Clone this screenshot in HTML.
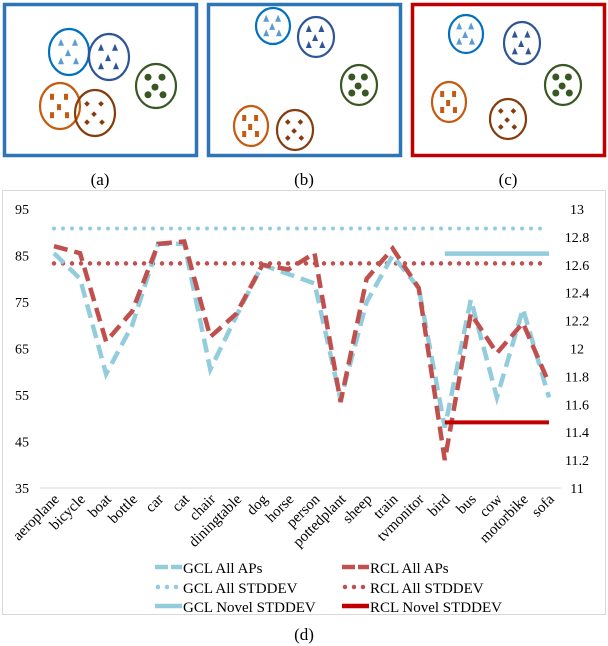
<!DOCTYPE html>
<html><head><meta charset="utf-8"><style>
body{margin:0;background:#fff;width:608px;height:646px;overflow:hidden;font-family:"Liberation Serif",serif}
svg{display:block}
</style></head><body>
<svg width="608" height="646" viewBox="0 0 608 646" xmlns="http://www.w3.org/2000/svg" font-family="Liberation Serif, serif">
<g id="panels"></g>
<text x="100" y="185" font-size="17" text-anchor="middle">(a)</text>
<text x="304" y="185" font-size="17" text-anchor="middle">(b)</text>
<text x="508" y="185" font-size="17" text-anchor="middle">(c)</text>
<rect x="2.5" y="190.5" width="603" height="424" fill="none" stroke="#d9d9d9"/>
<g id="chart"></g>
<text x="304" y="640" font-size="17" text-anchor="middle">(d)</text>
</svg>
<script>
const categories=["aeroplane","bicycle","boat","bottle","car","cat","chair","diningtable","dog","horse","person","pottedplant","sheep","train","tvmonitor","bird","bus","cow","motorbike","sofa"];
const gclAPs=[85.5,80,59.5,70,87.5,87.5,60.5,72,83,81,79,54,75,85,78,48,75.5,54.5,73.5,54.5];
const rclAPs=[87,85.5,66.5,73,87.5,88,67.5,72.5,83,82,85.5,53.5,80,86.5,78,41,72.5,64,70.5,57.5];
const gclAllStd=12.86, rclAllStd=12.61, gclNovelStd=12.68, rclNovelStd=11.47;
const novelStart=15;
const leftTicks=[35,45,55,65,75,85,95];
const rightTicks=[11,11.2,11.4,11.6,11.8,12,12.2,12.4,12.6,12.8,13];
const NS="http://www.w3.org/2000/svg";
function mk(p,t,a){const e=document.createElementNS(NS,t);for(const k in a)e.setAttribute(k,a[k]);p.appendChild(e);return e;}
const chart=document.getElementById('chart');
const yL=v=>488-(v-35)*(279/60);
const yR=v=>488-(v-11)*(279/2);
const xC=i=>54+i*(495/19);
mk(chart,'line',{x1:40,x2:561,y1:488,y2:488,stroke:'#d9d9d9'});
leftTicks.forEach(t=>{const e=mk(chart,'text',{x:22,y:yL(t)+5,'font-size':14,'text-anchor':'middle'});e.textContent=t;

});
rightTicks.forEach(t=>{const e=mk(chart,'text',{x:577,y:yR(t)+5,'font-size':14,'text-anchor':'middle'});e.textContent=t;

});
categories.forEach((c,i)=>{const x=xC(i)+6,y=500;const e=mk(chart,'text',{x:x,y:y,'font-size':15,'text-anchor':'end',transform:`rotate(-45 ${x} ${y})`});e.textContent=c;

});
const lb='#93cddd', rd='#c0504d', dr='#c00000';
let e;
e=mk(chart,'line',{x1:xC(0),x2:xC(19),y1:yR(gclAllStd),y2:yR(gclAllStd),stroke:lb,'stroke-width':4,'stroke-dasharray':'0 9','stroke-linecap':'round'});

e=mk(chart,'line',{x1:xC(0),x2:xC(19),y1:yR(rclAllStd),y2:yR(rclAllStd),stroke:rd,'stroke-width':4.5,'stroke-dasharray':'0 9','stroke-linecap':'round'});

e=mk(chart,'line',{x1:xC(novelStart),x2:xC(19),y1:yR(gclNovelStd),y2:yR(gclNovelStd),stroke:lb,'stroke-width':4.5});

e=mk(chart,'polyline',{points:gclAPs.map((v,i)=>xC(i)+','+yL(v)).join(' '),fill:'none',stroke:lb,'stroke-width':4.5,'stroke-dasharray':'14 7'});

e=mk(chart,'polyline',{points:rclAPs.map((v,i)=>xC(i)+','+yL(v)).join(' '),fill:'none',stroke:rd,'stroke-width':4.5,'stroke-dasharray':'14 7'});

e=mk(chart,'line',{x1:xC(novelStart),x2:xC(19),y1:yR(rclNovelStd),y2:yR(rclNovelStd),stroke:dr,'stroke-width':4});

// legend
const leg=[["GCL All APs",lb,'dash',155,567],["RCL All APs",rd,'dash',342,567],["GCL All STDDEV",lb,'dot',155,587],["RCL All STDDEV",rd,'dot',342,587],["GCL Novel STDDEV",lb,'solid',155,606],["RCL Novel STDDEV",dr,'solid',342,606]];
leg.forEach(l=>{const g=mk(chart,'g',{});


const a={x1:l[3],x2:l[3]+27,y1:l[4],y2:l[4],stroke:l[1],'stroke-width':4.5};
if(l[2]=='dash')a['stroke-dasharray']='13 3';if(l[2]=='dot'){a['stroke-dasharray']='0 9';a['stroke-linecap']='round';a.x1+=3;}
mk(g,'line',a);const t=mk(g,'text',{x:l[3]+28,y:l[4]+6,'font-size':15});t.textContent=l[0];});
// panels
const P=document.getElementById('panels');
const boxes=[[3,3,'#2e75b6'],[207,3,'#2e75b6'],[411,3,'#c00000']];
boxes.forEach(b=>{e=mk(P,'rect',{x:b[0]+1.5,y:b[1]+1.5,width:192,height:151,fill:'none',stroke:b[2],'stroke-width':3.5});
});
const cl=[['#0070c0','tri1','#5b9bd5'],['#2f5597','tri2','#2f5597'],['#385723','dot','#385723'],['#c55a11','sq','#c55a11'],['#843c0c','dia','#843c0c']];
const circ=[[[69,52,20,23],[109,57,20,23],[156,86,20,22],[60,106,20,23],[95,113,20,23]],
[[273,26,17,18],[316,37,18,20],[359,85,18,20],[251,126,17,20],[295,130,18,20]],
[[466,34,17,19],[522,43,18,21],[563,85,18,20],[449,102,17,20],[508,119,18,20]]];
circ.forEach(pc=>pc.forEach((c,k)=>{mk(P,'ellipse',{cx:c[0],cy:c[1],rx:c[2],ry:c[3],fill:'none',stroke:cl[k][0],'stroke-width':2.2});
const offs=[[-8,-8],[6,-8],[-1,1],[-8,8],[7,8]];
offs.forEach(o=>{const x=c[0]+o[0]*c[2]/20,y=c[1]+o[1]*c[3]/20,col=cl[k][2];
if(k<2)mk(P,'polygon',{points:`${x-3},${y+3} ${x+3},${y+3} ${x},${y-4}`,fill:col});
else if(k==2)mk(P,'circle',{cx:x,cy:y,r:3.5,fill:col});
else if(k==3)mk(P,'rect',{x:x-2,y:y-3,width:4,height:6,fill:col});
else mk(P,'rect',{x:x-2,y:y-2,width:4,height:4,fill:col,transform:`rotate(45 ${x} ${y})`});});}));
</script>
</body></html>
